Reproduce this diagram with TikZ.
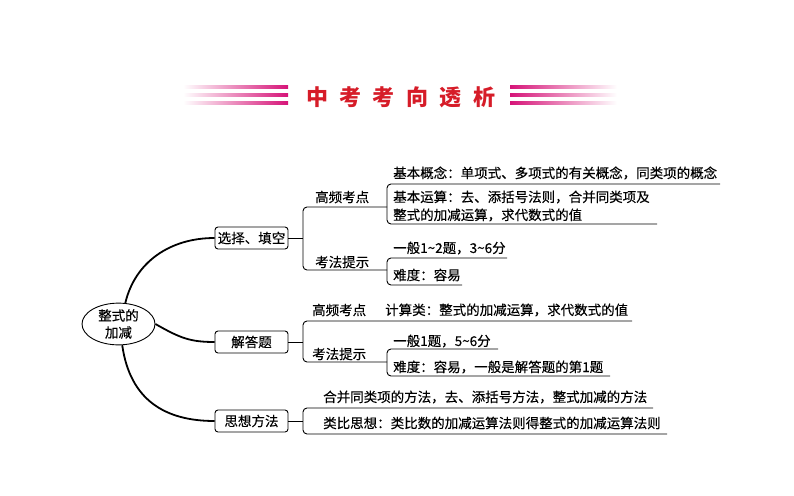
\documentclass[tikz,border=0pt]{standalone}
\usepackage{fontspec}
\usetikzlibrary{shapes.geometric}
\newfontfamily\cjk[FakeBold=0.3]{Noto Sans CJK SC}
\newfontfamily\cjkt{Noto Sans CJK SC}
\definecolor{ttlred}{RGB}{214,28,40}
\definecolor{bar}{RGB}{214,20,120}
\begin{document}
\begin{tikzpicture}[x=1pt,y=-1pt,
  txt/.style={font=\cjk\fontsize{13.5}{17}\selectfont, inner sep=0pt, anchor=west},
  box/.style={draw, rounded corners=3pt, line width=0.9pt, minimum width=73pt, minimum height=22pt, inner sep=1pt, font=\cjk\fontsize{13.5}{17}\selectfont},
  ln/.style={line width=0.9pt, rounded corners=4pt},
  curve/.style={line width=1.8pt},
  ttl/.style={font=\cjkt\bfseries\fontsize{22}{24}\selectfont, text=ttlred, inner sep=0pt}]
\useasboundingbox (0,0) rectangle (794,495);
% header bars
\foreach \yy in {87,95,103}{
  \shade[left color=white, right color=bar] (183,\yy-1.6) rectangle (288,\yy+1.6);
  \shade[left color=bar, right color=white] (510,\yy-1.6) rectangle (617,\yy+1.6);
}
\node[ttl] (t1) at (317,97) {中};
\node[ttl] (t2) at (350.4,97) {考};
\node[ttl] (t3) at (383.8,97) {考};
\node[ttl] (t4) at (417.2,97) {向};
\node[ttl] (t5) at (450.6,97) {透};
\node[ttl] (t6) at (484,97) {析};
% root
\node[draw, ellipse, line width=0.9pt, minimum width=73pt, minimum height=38pt, inner sep=0pt, align=center,
  font=\cjk\fontsize{13.5}{17}\selectfont] (root) at (118.5,324) {整式的\\加减};
% branch boxes
\node[box] (b1) at (251.5,238) {选择、填空};
\node[box] (b2) at (251.5,342) {解答题};
\node[box] (b3) at (251.5,421) {思想方法};
% curves
\draw[curve] (root.72) .. controls (135,262) and (170,238) .. (b1.west);
\draw[curve] (root.east) .. controls (180,338) and (190,342) .. (b2.west);
\draw[curve] (root.-80) .. controls (130,400) and (165,421) .. (b3.west);
% group 1
\coordinate (g1) at (303,238);
\draw[ln] (b1.east) -- (g1);
\draw[ln] (387,207) -- (303,207) -- (303,270) -- (387,270);
\node[txt] (h1) at (315,197) {高频考点};
\node[txt] (k1) at (315,262) {考法提示};
\draw[ln] (720,184) -- (387,184) -- (387,224) -- (657,224);
\node[txt] (a1) at (393,173) {基本概念：单项式、多项式的有关概念，同类项的概念};
\node[txt] (a2) at (393,197) {基本运算：去、添括号法则，合并同类项及};
\node[txt] (a3) at (393,215) {整式的加减运算，求代数式的值};
\draw[ln] (507,258) -- (387,258) -- (387,285) -- (462,285);
\node[txt] (a4) at (393,248) {一般1\textasciitilde2题，3\textasciitilde6分};
\node[txt] (a5) at (393,275) {难度：容易};
% group 2
\coordinate (g2) at (303,342);
\draw[ln] (b2.east) -- (g2);
\draw[ln] (632,321) -- (303,321) -- (303,362) -- (387,362);
\node[txt] (h2) at (312,310) {高频考点};
\node[txt] (c1) at (385,310) {计算类：整式的加减运算，求代数式的值};
\node[txt] (k2) at (312,354) {考法提示};
\draw[ln] (498,349) -- (387,349) -- (387,376) -- (610,376);
\node[txt] (c2) at (393,341) {一般1题，5\textasciitilde6分};
\node[txt] (c3) at (393,367) {难度：容易，一般是解答题的第1题};
% group 3
\coordinate (g3) at (303,421);
\draw[ln] (b3.east) -- (g3);
\draw[ln] (653,408) -- (303,408) -- (303,434) -- (667,434);
\node[txt] (d1) at (323,397) {合并同类项的方法，去、添括号方法，整式加减的方法};
\node[txt] (d2) at (323,423) {类比思想：类比数的加减运算法则得整式的加减运算法则};
\end{tikzpicture}
\end{document}
